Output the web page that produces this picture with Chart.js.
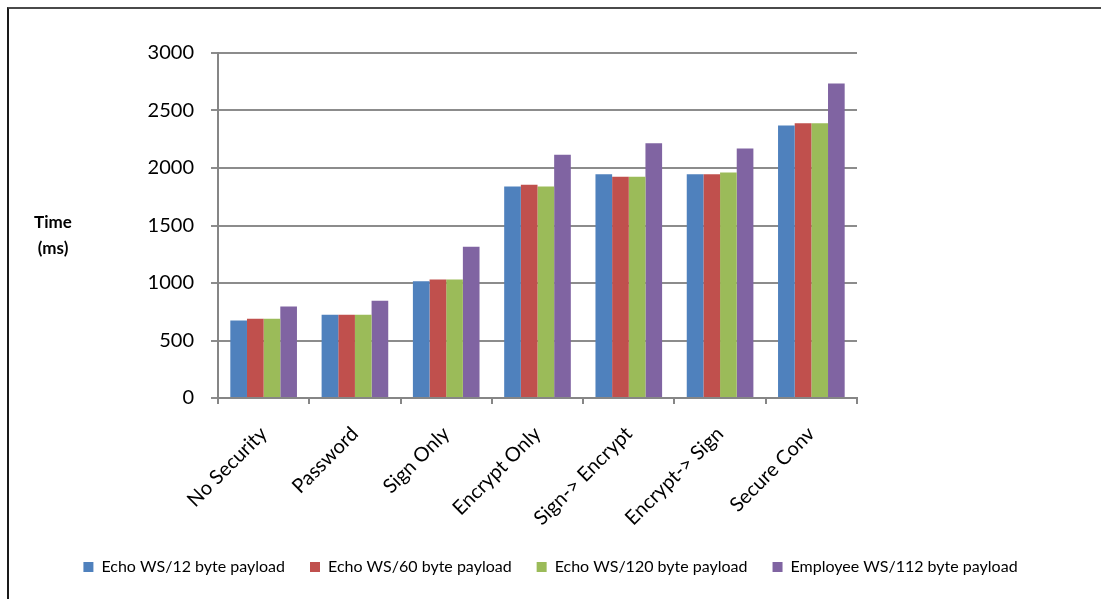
<!DOCTYPE html>
<html>
<head>
<meta charset="utf-8">
<script src="https://cdn.jsdelivr.net/npm/chart.js@4.4.1/dist/chart.umd.min.js"></script>
<style>
  body { margin: 0; background: #fff; overflow: hidden; }
  #frame { position: absolute; left: 7px; top: 7px; width: 1200px; height: 700px;
           border-left: 2px solid #1a1a1a; border-top: 2px solid #4a4a4a; }
  #chart { position: absolute; left: 0; top: 0; }
</style>
</head>
<body>
<div id="frame"></div>
<canvas id="chart" width="1101" height="599"></canvas>
<script>
var categories = ['No Security', 'Password', 'Sign Only', 'Encrypt Only', 'Sign-> Encrypt', 'Encrypt-> Sign', 'Secure Conv'];
var seriesNames = ['Echo WS/12 byte payload', 'Echo WS/60 byte payload', 'Echo WS/120 byte payload', 'Employee WS/112 byte payload'];
var echo12 = [675, 725, 1015, 1840, 1945, 1945, 2370];
var echo60 = [690, 725, 1030, 1855, 1925, 1945, 2390];
var echo120 = [690, 725, 1030, 1840, 1925, 1960, 2390];
var employee112 = [795, 845, 1315, 2115, 2215, 2170, 2735];
var yTicks = [0, 500, 1000, 1500, 2000, 2500, 3000];
var colors = ['#4f81bd', '#c0504d', '#9bbb59', '#8064a2'];

var FONT = 'Lato, "Open Sans", sans-serif';

// horizontal "Time (ms)" caption left of the value axis
const yCaption = {
  id: 'yCaption',
  afterDraw(chart) {
    const c = chart.ctx;
    c.save();
    c.fillStyle = '#000';
    c.font = 'bold 17px ' + FONT;
    c.textAlign = 'center';
    c.textBaseline = 'middle';
    c.fillText('Time', 53, 223);
    c.fillText('(ms)', 53, 249);
    c.restore();
  }
};

const ctx = document.getElementById('chart');
var chart = new Chart(ctx, {
  type: 'bar',
  data: {
    labels: categories,
    datasets: [echo12, echo60, echo120, employee112].map((d, i) => ({
      label: seriesNames[i],
      data: d,
      backgroundColor: colors[i],
      borderWidth: 0
    }))
  },
  options: {
    responsive: false,
    animation: false,
    layout: { padding: { left: 0, right: 0, top: 53, bottom: 14 } },
    datasets: { bar: { categoryPercentage: 0.73, barPercentage: 1.0 } },
    plugins: {
      tooltip: { enabled: false },
      legend: {
        position: 'bottom',
        labels: {
          color: '#000',
          font: { family: FONT, size: 16 },
          boxWidth: 10,
          boxHeight: 10,
          padding: 25
        }
      }
    },
    scales: {
      x: {
        afterFit: s => { s.height = 136; },
        grid: { drawOnChartArea: false, drawTicks: true, tickLength: 6, color: '#868686', lineWidth: 2 },
        border: { color: '#868686', width: 2 },
        ticks: {
          color: '#000',
          font: { family: FONT, size: 20 },
          minRotation: 45,
          maxRotation: 45,
          padding: 18
        }
      },
      y: {
        min: 0,
        max: 3000,
        afterFit: s => { s.width = 218; },
        afterBuildTicks: s => { s.ticks = yTicks.map(v => ({ value: v })); },
        grid: { color: '#8c8c8c', lineWidth: 2, tickLength: 7 },
        border: { color: '#868686', width: 2 },
        ticks: {
          color: '#000',
          font: { family: FONT, size: 20 },
          padding: 17,
          callback: v => String(v)
        }
      },
      // empty right-hand spacer keeps the plot narrower than the legend row
      spacer: {
        type: 'linear',
        position: 'right',
        afterFit: s => { s.width = 244; },
        grid: { display: false },
        border: { display: false },
        ticks: { display: false }
      }
    }
  },
  plugins: [yCaption]
});
</script>
</body>
</html>
